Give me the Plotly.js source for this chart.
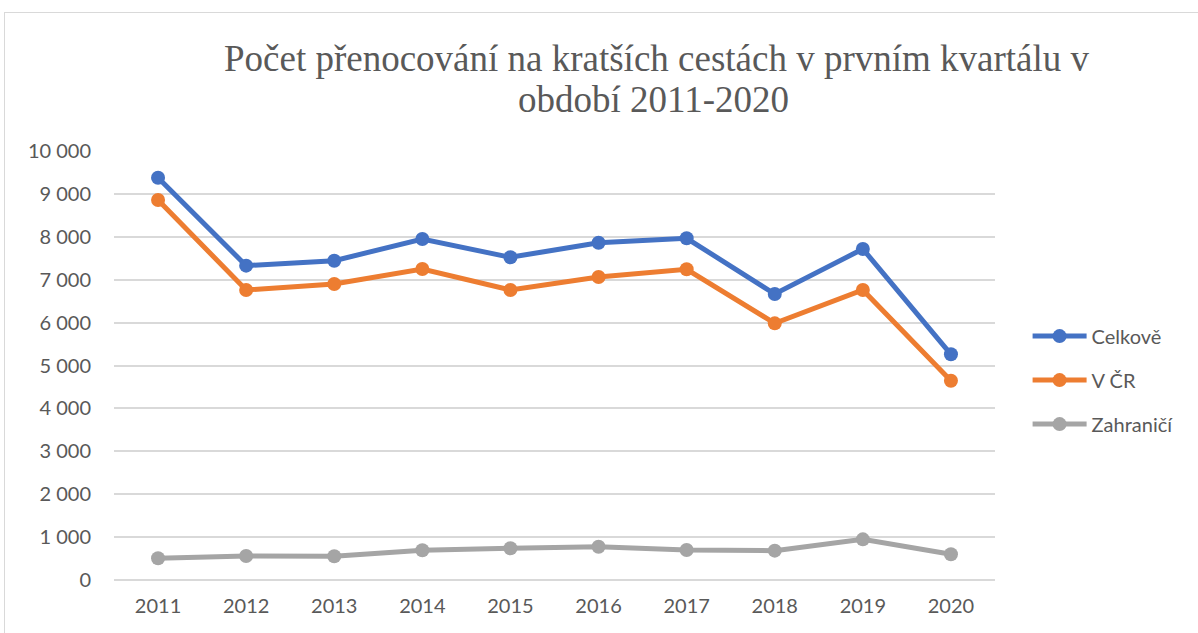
<!DOCTYPE html>
<html><head><meta charset="utf-8">
<script src="https://cdn.plot.ly/plotly-3.0.1.min.js"></script>
<style>
html,body{margin:0;padding:0;background:#fff;overflow:hidden;}
#frame{position:absolute;left:4px;top:12px;width:1300px;height:700px;border:1px solid #D9D9D9;box-sizing:border-box;pointer-events:none;z-index:2;}
#chart{position:absolute;left:0;top:0;width:1198px;height:633px;}
</style></head>
<body>
<div id="chart"></div>
<div id="frame"></div>
<script>
var years = ['2011','2012','2013','2014','2015','2016','2017','2018','2019','2020'];
var celkove = [9378, 7327, 7443, 7949, 7522, 7862, 7965, 6667, 7716, 5261];
var vCR = [8858, 6760, 6900, 7249, 6760, 7063, 7242, 5983, 6760, 4646];
var zahranici = [508, 561, 554, 693, 739, 776, 700, 684, 947, 600];
var seriesNames = ['Celkově', 'V ČR', 'Zahraničí'];
var colors = ['#4472C4', '#ED7D31', '#A5A5A5'];
var yTicks = [0,1000,2000,3000,4000,5000,6000,7000,8000,9000,10000];
var yTickText = ['0','1 000','2 000','3 000','4 000','5 000','6 000','7 000','8 000','9 000','10 000'];
var titleLine1 = 'Počet přenocování na kratších cestách v prvním kvartálu v';
var titleLine2 = 'období 2011-2020';

var data = [celkove, vCR, zahranici].map(function(v, i){
  return {
    x: years, y: v, type: 'scatter', mode: 'lines+markers', name: seriesNames[i],
    legendgroup: 'g' + i,
    line: {color: colors[i], width: 5},
    marker: {color: colors[i], size: 14},
    hoverinfo: 'x+y'
  };
});

var titleFont = {family: 'Liberation Serif, Times New Roman, serif', size: 37, color: '#595959'};

var layout = {
  width: 1198, height: 633,
  paper_bgcolor: '#fff', plot_bgcolor: '#fff',
  margin: {l: 114, r: 203, t: 151, b: 53},
  title: {
    text: titleLine1, font: titleFont,
    x: 0.548, xanchor: 'center', y: 1 - 58/633, yanchor: 'middle'
  },
  annotations: [{
    text: titleLine2, font: titleFont, showarrow: false,
    xref: 'paper', yref: 'paper', x: 0.612, xanchor: 'center',
    y: (580 - 100) / 429, yanchor: 'middle'
  }],
  font: {family: 'Lato, Calibri, sans-serif', size: 20, color: '#595959'},
  xaxis: {
    type: 'category', range: [-0.5, 9.5], showgrid: false, zeroline: false,
    showline: false, ticks: '', ticklabelstandoff: 12,
    tickfont: {size: 20, color: '#595959'}
  },
  yaxis: {
    range: [0, 10000], tickvals: yTicks, ticktext: yTickText,
    showgrid: true, gridcolor: '#D9D9D9', gridwidth: 2,
    zeroline: true, zerolinecolor: '#D9D9D9', zerolinewidth: 2,
    showline: false, ticks: '', ticklabelstandoff: 22,
    tickfont: {size: 20, color: '#595959'}
  },
  showlegend: true,
  legend: {
    x: 1.037, xanchor: 'left', y: 0.614, yanchor: 'top',
    font: {size: 20, color: '#595959'},
    tracegroupgap: 15, itemwidth: 54,
    bgcolor: 'rgba(0,0,0,0)'
  }
};

Plotly.newPlot('chart', data, layout, {displayModeBar: false, staticPlot: true});
</script>
</body></html>
